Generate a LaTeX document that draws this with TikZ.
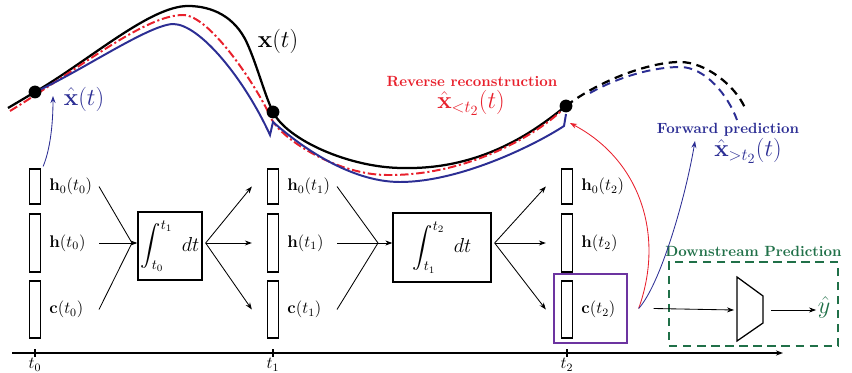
\documentclass[tikz,border=0pt]{standalone}
\usepackage{exscale}
\usetikzlibrary{arrows.meta,calc,positioning}

\definecolor{recred}{RGB}{232,32,44}
\definecolor{predblue}{RGB}{44,46,148}
\definecolor{dsgreen}{RGB}{32,112,72}
\definecolor{selpurple}{RGB}{108,52,160}

\begin{document}
\begin{tikzpicture}[x=0.025cm,y=-0.025cm,>={Stealth[length=5pt,width=3.6pt]},
		bar/.style={draw,line width=0.9pt,inner sep=0pt,minimum width=0.275cm},
		lab/.style={inner sep=0pt,font=\fontsize{11.5}{13}\selectfont},
		intbox/.style={draw,line width=0.9pt,inner sep=0pt,font=\Large},
		flow/.style={->,line width=0.6pt},
		dot/.style={circle,fill=black,inner sep=0pt,minimum size=0.32cm},
		bigmath/.style={font=\LARGE,inner sep=1pt},
		title/.style={font=\fontsize{10.5}{12}\selectfont\bfseries,inner sep=1pt}]
	\useasboundingbox (0,0) rectangle (852,373);
	\def\traj{1.6pt}
	\def\est{1.4pt}
	
	% time axis and the three states
	\draw[->,line width=0.9pt] (12,353) -- (783,353);
	\foreach \x/\i in {35/0,273/1,567/2}{
		\draw[line width=0.9pt] (\x,349) -- (\x,357);
		\node[lab] (t\i) at (\x,365) {$t_\i$};
		\node[bar,minimum height=0.875cm] (h0-\i) at (\x,186.5) {};
		\node[bar,minimum height=1.45cm] (h-\i) at (\x,243) {};
		\node[bar,minimum height=1.425cm] (c-\i) at (\x,309.5) {};
		\node[lab,right=0.2cm of h0-\i] (lh0-\i) {$\mathbf{h}_0(t_\i)$};
		\node[lab,right=0.2cm of h-\i] (lh-\i) {$\mathbf{h}(t_\i)$};
		\node[lab,right=0.2cm of c-\i] (lc-\i) {$\mathbf{c}(t_\i)$};
	}
	
	\node[intbox,minimum width=1.6cm,minimum height=1.7cm] (int0) at (170,246) {$\displaystyle\int_{t_0}^{t_1}\;dt$};
	\node[intbox,minimum width=2.45cm,minimum height=1.725cm] (int1) at (442,247.5) {$\displaystyle\int_{t_1}^{t_2}\;dt$};
	\coordinate (m0) at (132,243);
	\coordinate (m1) at (378,243);
	\foreach \i in {0,1}{
		\foreach \r in {h0,h,c}
			\draw[line width=0.6pt] ($(\r-\i)+(64,0)$) -- (m\i);
		\draw[flow] (m\i) -- (m\i -| int\i.west);
	}
	\foreach \i/\j in {0/1,1/2}{
		\coordinate (o\i) at ($(int\i.east |- m\i)+(3,0)$);
		\foreach \r in {h0,h,c}
			\draw[flow] (o\i) -- ($(\r-\j.west)+(-15,0)$);
	}
	
	% downstream head
	\node[draw=selpurple,line width=0.9pt,minimum width=1.825cm,minimum height=1.725cm] (sel) at (590.5,308.5) {};
	\node[draw=dsgreen,line width=0.9pt,dash pattern=on 6pt off 4pt,minimum width=4.225cm,minimum height=2.1cm] (ds) at (753.5,304) {};
	\node[title,text=dsgreen,above=2pt of ds] (dstitle) {Downstream Prediction};
	\draw[line width=0.9pt] (737,277) -- (763,296) -- (763,323) -- (737,341) -- cycle;
	\coordinate (mlp-in) at (734,310);
	\coordinate (mlp-out) at (771,310);
	\node[bigmath,text=dsgreen] (yhat) at (824,307) {$\hat{y}$};
	\draw[flow] ($(sel.east)+(26,0)$) -- (mlp-in);
	\draw[flow] (mlp-out) -- (mlp-out -| yhat.west);
	
	% trajectories
	\draw[line width=\traj] (8,108) -- (35,92) .. controls (90,60) and (150,6) .. (188,6)
		.. controls (212,6) and (235,16.6) .. (247,43) .. controls (257,65) and (265,96) .. (273,112)
		.. controls (287,140) and (350,168) .. (403,168) .. controls (490,170) and (545,122) .. (566,106);
	\draw[line width=\traj,dash pattern=on 6pt off 4pt] (566,106) .. controls (600,80) and (650,62) .. (680,62)
		.. controls (705,62) and (735,85) .. (745,108);
	\draw[recred,line width=\est,dash pattern=on 6pt off 2pt on 1.5pt off 2pt] (10,111) .. controls (80,68) and (145,15) .. (183,15)
		.. controls (210,15) and (258,88) .. (272,120) .. controls (285,142) and (340,175) .. (387,175)
		.. controls (470,176) and (540,132) .. (562,110);
	\draw[predblue,line width=\est] (35,92) .. controls (80,72) and (148,25) .. (173,24)
		.. controls (200,24) and (245,80) .. (270,135) -- (273,122)
		.. controls (300,146) and (350,182) .. (400,182) .. controls (460,182) and (535,145) .. (564,126) -- (566,114);
	\draw[predblue,line width=\est,dash pattern=on 6pt off 4pt] (590,93) .. controls (620,76) and (655,67) .. (680,67)
		.. controls (705,67) and (728,95) .. (737,120);
	\node[dot] (p0) at (35,92) {};
	\node[dot] (p1) at (273,112) {};
	\node[dot] (p2) at (566,106) {};
	
	\node[bigmath] (xt) at (278,41) {$\mathbf{x}(t)$};
	\node[bigmath,text=predblue] (xh) at (84,99) {$\hat{\mathbf{x}}(t)$};
	\draw[->,predblue,line width=0.6pt] ($(h0-0.north east)+(2,-2)$) .. controls (50,150) and (53,125) .. (53,96);
	
	\node[title,text=recred] (rev) at (472,82) {Reverse reconstruction};
	\node[bigmath,text=recred] (xrev) at (471,103) {$\hat{\mathbf{x}}_{<t_2}(t)$};
	\node[title,text=predblue] (fwd) at (728,130) {Forward prediction};
	\node[bigmath,text=predblue] (xfwd) at (748,151) {$\hat{\mathbf{x}}_{>t_2}(t)$};
	\coordinate (src) at ($(sel.east)+(11,0)$);
	\coordinate (rtip) at ($(p2)+(4,17)$);
	\coordinate (ftip) at (695,141);
	\draw[->,recred,line width=0.6pt] (src) .. controls (665,235) and (640,160) .. (rtip);
	\draw[->,predblue,line width=0.6pt] (src) .. controls (660,285) and (685,200) .. (ftip);
\end{tikzpicture}
\end{document}
